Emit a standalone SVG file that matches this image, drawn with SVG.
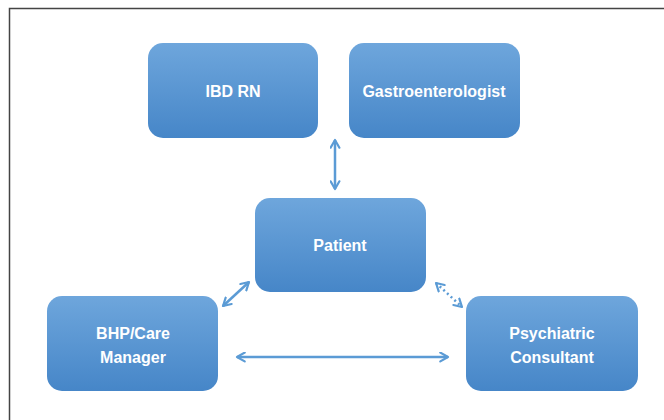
<svg xmlns="http://www.w3.org/2000/svg" width="664" height="420" viewBox="0 0 664 420">
<defs>
<linearGradient id="g" x1="0" y1="0" x2="0" y2="1">
<stop offset="0" stop-color="#6ea6dc"/>
<stop offset="1" stop-color="#4686c8"/>
</linearGradient>
<marker id="ah" viewBox="0 0 10 10" refX="8" refY="5" markerWidth="4.4" markerHeight="4.4" orient="auto-start-reverse" markerUnits="strokeWidth">
<path d="M1,1 L8,5 L1,9" fill="none" stroke="#5b9bd5" stroke-width="2" stroke-linecap="round" stroke-linejoin="round"/>
</marker>
</defs>
<style>
.box{fill:url(#g);}
.t{font-family:"Liberation Sans",Arial,sans-serif;font-weight:bold;font-size:16px;fill:#ffffff;text-anchor:middle;}
.c{stroke:#5b9bd5;stroke-width:2.5;fill:none;}
</style>
<rect width="664" height="420" fill="#ffffff"/>
<path d="M9.5,420 V8.5 H664" fill="none" stroke="#444" stroke-width="1.5"/>
<g id="ibdrn"><rect class="box" x="148" y="43" width="170" height="95" rx="15"/><text class="t" x="233" y="97">IBD RN</text></g>
<g id="gastro"><rect class="box" x="349" y="43" width="171" height="95" rx="15"/><text class="t" x="434" y="97">Gastroenterologist</text></g>
<g id="patient"><rect class="box" x="255" y="198" width="171" height="94" rx="15"/><text class="t" x="340" y="251">Patient</text></g>
<g id="bhp"><rect class="box" x="47" y="296" width="171" height="95" rx="15"/><text class="t" x="133" y="339">BHP/Care</text><text class="t" x="133" y="363">Manager</text></g>
<g id="psych"><rect class="box" x="466" y="296" width="172" height="95" rx="15"/><text class="t" x="552" y="339">Psychiatric</text><text class="t" x="552" y="363">Consultant</text></g>
<g id="connectors">
<line class="c" x1="335" y1="140" x2="335" y2="189" marker-start="url(#ah)" marker-end="url(#ah)"/>
<line class="c" x1="223" y1="306" x2="249" y2="282" marker-start="url(#ah)" marker-end="url(#ah)"/>
<line class="c" x1="436" y1="283" x2="462" y2="307" stroke-dasharray="2,3" marker-start="url(#ah)" marker-end="url(#ah)"/>
<line class="c" x1="237" y1="357" x2="448" y2="357" marker-start="url(#ah)" marker-end="url(#ah)"/>
</g>
</svg>
